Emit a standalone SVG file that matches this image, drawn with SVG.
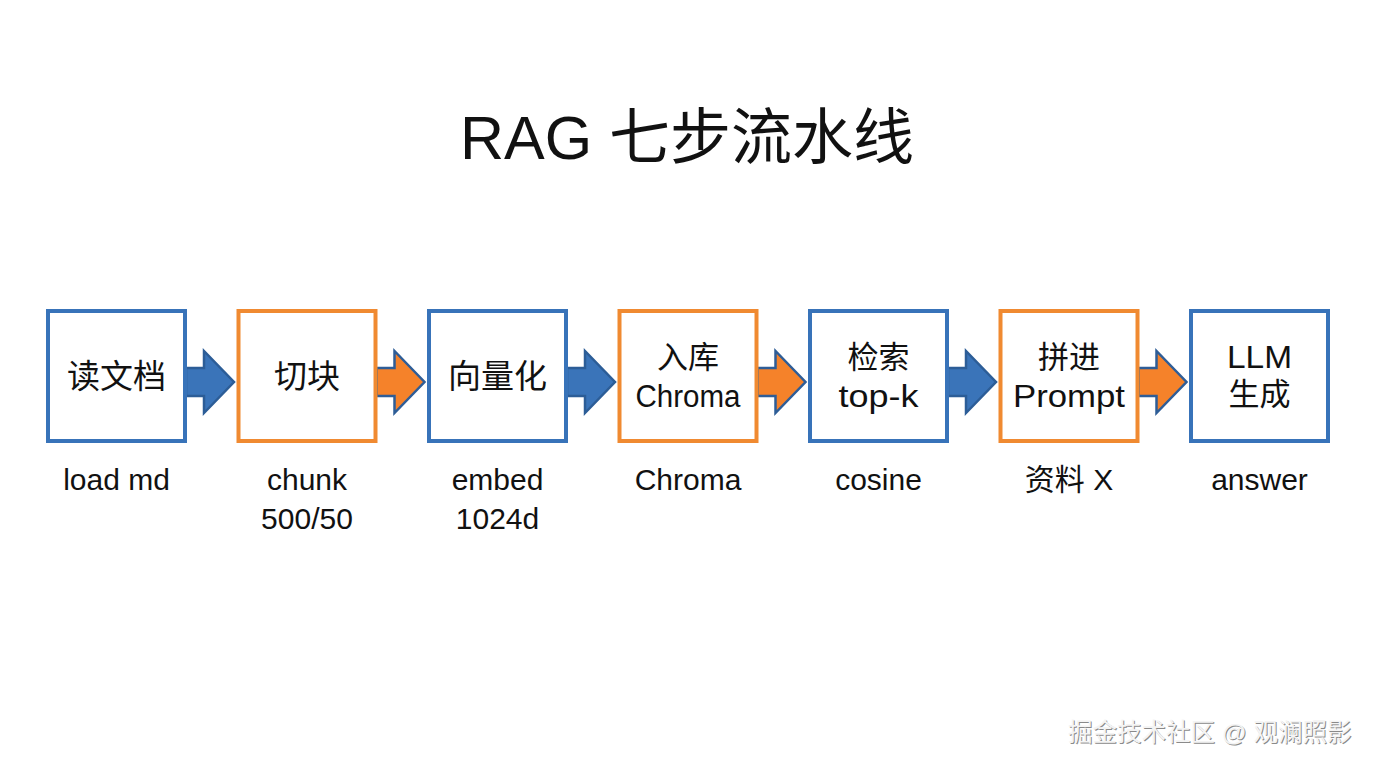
<svg xmlns="http://www.w3.org/2000/svg" width="1376" height="768" viewBox="0 0 1376 768">
<style>
text{font-family:"Liberation Sans","Noto Sans CJK SC",sans-serif;fill:#111;text-anchor:middle}
.title{font-size:61px}
.bt{font-size:31px}
.bt1{font-size:33px}
.lab{font-size:30px}
.bb{fill:#fff;stroke:#3873b9;stroke-width:4}
.ob{fill:#fff;stroke:#f08a31;stroke-width:4}
.ba{fill:#3a74b9;stroke:#2c5d97;stroke-width:2.5;stroke-linejoin:miter}
.oa{fill:#f5822a;stroke:#2e5d97;stroke-width:2.5;stroke-linejoin:miter}
.wm{font-size:24.5px;text-anchor:start}
</style>
<rect width="1376" height="768" fill="#fff"/>
<text class="title" x="687" y="159">RAG 七步流水线</text>

<g id="connectors">
<path class="ba" d="M186,368H204V351L234,382L204,413V396H186Z"/>
<path class="oa" d="M376.5,368H394.5V351L424.5,382L394.5,413V396H376.5Z"/>
<path class="ba" d="M567,368H585V351L615,382L585,413V396H567Z"/>
<path class="oa" d="M757.5,368H775.5V351L805.5,382L775.5,413V396H757.5Z"/>
<path class="ba" d="M948,368H966V351L996,382L966,413V396H948Z"/>
<path class="oa" d="M1138.5,368H1156.5V351L1186.5,382L1156.5,413V396H1138.5Z"/>
</g>

<g id="n1">
<rect class="bb" x="48" y="311" width="137" height="130"/>
<text class="bt1" x="116.5" y="388">读文档</text>
<text class="lab" x="116.5" y="490">load md</text>
</g>
<g id="n2">
<rect class="ob" x="238.5" y="311" width="137" height="130"/>
<text class="bt1" x="307" y="388">切块</text>
<text class="lab" x="307" y="490">chunk</text>
<text class="lab" x="307" y="529">500/50</text>
</g>
<g id="n3">
<rect class="bb" x="429" y="311" width="137" height="130"/>
<text class="bt1" x="497.5" y="388">向量化</text>
<text class="lab" x="497.5" y="490">embed</text>
<text class="lab" x="497.5" y="529">1024d</text>
</g>
<g id="n4">
<rect class="ob" x="619.5" y="311" width="137" height="130"/>
<text class="bt" x="688" y="368">入库</text>
<text class="bt" x="688" y="407" textLength="105" lengthAdjust="spacingAndGlyphs">Chroma</text>
<text class="lab" x="688" y="490">Chroma</text>
</g>
<g id="n5">
<rect class="bb" x="810" y="311" width="137" height="130"/>
<text class="bt" x="878.5" y="368">检索</text>
<text class="bt" x="878.5" y="407" textLength="80" lengthAdjust="spacingAndGlyphs">top-k</text>
<text class="lab" x="878.5" y="490">cosine</text>
</g>
<g id="n6">
<rect class="ob" x="1000.5" y="311" width="137" height="130"/>
<text class="bt" x="1069" y="368">拼进</text>
<text class="bt" x="1069" y="407" textLength="112" lengthAdjust="spacingAndGlyphs">Prompt</text>
<text class="lab" x="1069" y="490">资料 X</text>
</g>
<g id="n7">
<rect class="bb" x="1191" y="311" width="137" height="130"/>
<text class="bt" x="1259.5" y="368" textLength="65" lengthAdjust="spacingAndGlyphs">LLM</text>
<text class="bt" x="1259.5" y="405">生成</text>
<text class="lab" x="1259.5" y="490">answer</text>
</g>

<text class="wm" x="1069" y="742" style="fill:#8a8a8a">掘金技术社区 @ 观澜照影</text>
<text class="wm" x="1068" y="741" style="fill:#f4f4f4">掘金技术社区 @ 观澜照影</text>
</svg>
